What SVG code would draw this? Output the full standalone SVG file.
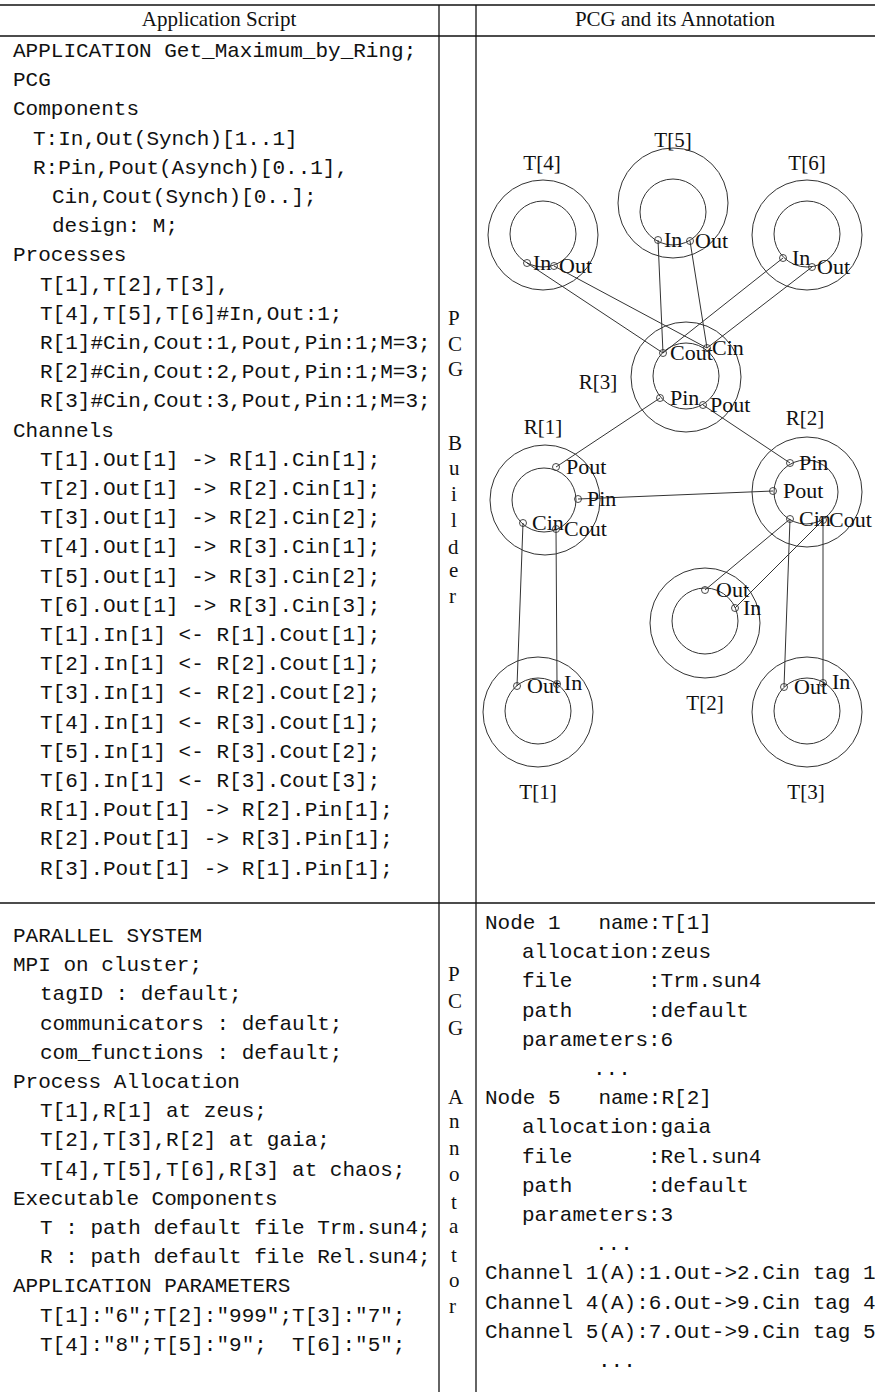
<svg xmlns="http://www.w3.org/2000/svg" width="875" height="1392" viewBox="0 0 875 1392">
<style>
.tt{font-family:"Liberation Mono","DejaVu Sans Mono",monospace;font-size:21px;fill:#111}
.tt text{white-space:pre}
.rm{font-family:"Liberation Serif","DejaVu Serif",serif;font-size:21px;fill:#111}
.lbl{font-family:"Liberation Serif","DejaVu Serif",serif;font-size:21px;fill:#111;text-anchor:middle}
.pl{font-family:"Liberation Serif","DejaVu Serif",serif;font-size:22px;fill:#111}
.tl{stroke:#111;stroke-width:1.3;fill:none}
.ring{fill:none;stroke:#333;stroke-width:1}
.port{fill:none;stroke:#333;stroke-width:0.9}
.conn{stroke:#333;stroke-width:1;fill:none}
</style>
<rect width="875" height="1392" fill="#fff"/>
<g id="table">
<line class="tl" x1="0" y1="5" x2="875" y2="5"/>
<line class="tl" x1="0" y1="36" x2="875" y2="36"/>
<line class="tl" x1="0" y1="903" x2="875" y2="903"/>
<line class="tl" x1="439" y1="5" x2="439" y2="1392"/>
<line class="tl" x1="476" y1="5" x2="476" y2="1392"/>
<text class="rm" x="219" y="26" text-anchor="middle">Application Script</text>
<text class="rm" x="675" y="26" text-anchor="middle">PCG and its Annotation</text>
</g>
<g id="script-upper" class="tt">
<text x="13" y="57">APPLICATION Get_Maximum_by_Ring;</text>
<text x="13" y="86.2">PCG</text>
<text x="13" y="115.4">Components</text>
<text x="33" y="144.6">T:In,Out(Synch)[1..1]</text>
<text x="33" y="173.8">R:Pin,Pout(Asynch)[0..1],</text>
<text x="52" y="203">Cin,Cout(Synch)[0..];</text>
<text x="52" y="232.2">design: M;</text>
<text x="13" y="261.4">Processes</text>
<text x="40" y="290.6">T[1],T[2],T[3],</text>
<text x="40" y="319.8">T[4],T[5],T[6]#In,Out:1;</text>
<text x="40" y="349">R[1]#Cin,Cout:1,Pout,Pin:1;M=3;</text>
<text x="40" y="378.2">R[2]#Cin,Cout:2,Pout,Pin:1;M=3;</text>
<text x="40" y="407.4">R[3]#Cin,Cout:3,Pout,Pin:1;M=3;</text>
<text x="13" y="436.6">Channels</text>
<text x="40" y="465.8">T[1].Out[1] -&gt; R[1].Cin[1];</text>
<text x="40" y="495">T[2].Out[1] -&gt; R[2].Cin[1];</text>
<text x="40" y="524.2">T[3].Out[1] -&gt; R[2].Cin[2];</text>
<text x="40" y="553.4">T[4].Out[1] -&gt; R[3].Cin[1];</text>
<text x="40" y="582.6">T[5].Out[1] -&gt; R[3].Cin[2];</text>
<text x="40" y="611.8">T[6].Out[1] -&gt; R[3].Cin[3];</text>
<text x="40" y="641">T[1].In[1] &lt;- R[1].Cout[1];</text>
<text x="40" y="670.2">T[2].In[1] &lt;- R[2].Cout[1];</text>
<text x="40" y="699.4">T[3].In[1] &lt;- R[2].Cout[2];</text>
<text x="40" y="728.6">T[4].In[1] &lt;- R[3].Cout[1];</text>
<text x="40" y="757.8">T[5].In[1] &lt;- R[3].Cout[2];</text>
<text x="40" y="787">T[6].In[1] &lt;- R[3].Cout[3];</text>
<text x="40" y="816.2">R[1].Pout[1] -&gt; R[2].Pin[1];</text>
<text x="40" y="845.4">R[2].Pout[1] -&gt; R[3].Pin[1];</text>
<text x="40" y="874.6">R[3].Pout[1] -&gt; R[1].Pin[1];</text>
</g>
<g id="script-lower" class="tt">
<text x="13" y="942">PARALLEL SYSTEM</text>
<text x="13" y="971.2">MPI on cluster;</text>
<text x="40" y="1000.4">tagID : default;</text>
<text x="40" y="1029.6">communicators : default;</text>
<text x="40" y="1058.8">com_functions : default;</text>
<text x="13" y="1088">Process Allocation</text>
<text x="40" y="1117.2">T[1],R[1] at zeus;</text>
<text x="40" y="1146.4">T[2],T[3],R[2] at gaia;</text>
<text x="40" y="1175.6">T[4],T[5],T[6],R[3] at chaos;</text>
<text x="13" y="1204.8">Executable Components</text>
<text x="40" y="1234">T : path default file Trm.sun4;</text>
<text x="40" y="1263.2">R : path default file Rel.sun4;</text>
<text x="13" y="1292.4">APPLICATION PARAMETERS</text>
<text x="40" y="1321.6">T[1]:"6";T[2]:"999";T[3]:"7";</text>
<text x="40" y="1350.8" xml:space="preserve">T[4]:"8";T[5]:"9";  T[6]:"5";</text>
</g>
<g id="annotation" class="tt">
<text x="485" y="929" xml:space="preserve">Node 1   name:T[1]</text>
<text x="522" y="958.2">allocation:zeus</text>
<text x="522" y="987.4" xml:space="preserve">file      :Trm.sun4</text>
<text x="522" y="1016.6" xml:space="preserve">path      :default</text>
<text x="522" y="1045.8">parameters:6</text>
<text x="593" y="1075">...</text>
<text x="485" y="1104.2" xml:space="preserve">Node 5   name:R[2]</text>
<text x="522" y="1133.4">allocation:gaia</text>
<text x="522" y="1162.6" xml:space="preserve">file      :Rel.sun4</text>
<text x="522" y="1191.8" xml:space="preserve">path      :default</text>
<text x="522" y="1221">parameters:3</text>
<text x="595" y="1250.2">...</text>
<text x="485" y="1279.4">Channel 1(A):1.Out-&gt;2.Cin tag 1</text>
<text x="485" y="1308.6">Channel 4(A):6.Out-&gt;9.Cin tag 4</text>
<text x="485" y="1337.8">Channel 5(A):7.Out-&gt;9.Cin tag 5</text>
<text x="598" y="1367">...</text>
</g>
<g id="mid-builder" class="rm">
<text x="448" y="325">P</text>
<text x="448" y="351">C</text>
<text x="448" y="376">G</text>
<text x="448" y="450">B</text>
<text x="449" y="475">u</text>
<text x="451" y="501">i</text>
<text x="451" y="527">l</text>
<text x="448" y="554">d</text>
<text x="449" y="577">e</text>
<text x="449" y="603">r</text>
</g>
<g id="mid-annotator" class="rm">
<text x="448" y="981">P</text>
<text x="448" y="1008">C</text>
<text x="448" y="1035">G</text>
<text x="448" y="1104">A</text>
<text x="449" y="1128">n</text>
<text x="449" y="1155">n</text>
<text x="449" y="1181">o</text>
<text x="451" y="1209">t</text>
<text x="449" y="1233">a</text>
<text x="451" y="1262">t</text>
<text x="449" y="1287">o</text>
<text x="449" y="1313">r</text>
</g>
<g id="connectors">
<line class="conn" x1="527" y1="263" x2="663" y2="353"/>
<line class="conn" x1="554" y1="266" x2="707" y2="348"/>
<line class="conn" x1="658" y1="240" x2="663" y2="353"/>
<line class="conn" x1="690" y1="241" x2="707" y2="348"/>
<line class="conn" x1="783" y1="258" x2="663" y2="353"/>
<line class="conn" x1="812" y1="267" x2="707" y2="348"/>
<line class="conn" x1="660" y1="398" x2="556" y2="467"/>
<line class="conn" x1="703" y1="405" x2="790" y2="463"/>
<line class="conn" x1="578" y1="499" x2="773" y2="491"/>
<line class="conn" x1="523" y1="523" x2="517" y2="686"/>
<line class="conn" x1="556" y1="529" x2="557" y2="684"/>
<line class="conn" x1="790" y1="519" x2="705" y2="590"/>
<line class="conn" x1="790" y1="519" x2="784" y2="687"/>
<line class="conn" x1="823" y1="520" x2="735" y2="608"/>
<line class="conn" x1="823" y1="520" x2="823" y2="683"/>
</g>
<g id="node-T4">
<circle class="ring" cx="543" cy="235" r="55"/><circle class="ring" cx="543" cy="234" r="33"/>
<text class="lbl" x="542" y="170">T[4]</text>
<circle class="port" cx="527" cy="263" r="3.5"/><text class="pl" x="533" y="270">In</text>
<circle class="port" cx="554" cy="266" r="3.5"/><text class="pl" x="559" y="273">Out</text>
</g>
<g id="node-T5">
<circle class="ring" cx="673" cy="203" r="55"/><circle class="ring" cx="673" cy="212" r="33"/>
<text class="lbl" x="673" y="147">T[5]</text>
<circle class="port" cx="658" cy="240" r="3.5"/><text class="pl" x="664" y="247">In</text>
<circle class="port" cx="690" cy="241" r="3.5"/><text class="pl" x="695" y="248">Out</text>
</g>
<g id="node-T6">
<circle class="ring" cx="807" cy="235" r="55"/><circle class="ring" cx="807" cy="234" r="33"/>
<text class="lbl" x="807" y="170">T[6]</text>
<circle class="port" cx="783" cy="258" r="3.5"/><text class="pl" x="792" y="265">In</text>
<circle class="port" cx="812" cy="267" r="3.5"/><text class="pl" x="817" y="274">Out</text>
</g>
<g id="node-R3">
<circle class="ring" cx="686" cy="377" r="55"/><circle class="ring" cx="686" cy="376" r="33"/>
<text class="lbl" x="598" y="389">R[3]</text>
<circle class="port" cx="663" cy="353" r="3.5"/><text class="pl" x="670" y="360">Cout</text>
<circle class="port" cx="707" cy="348" r="3.5"/><text class="pl" x="712" y="355">Cin</text>
<circle class="port" cx="660" cy="398" r="3.5"/><text class="pl" x="670" y="405">Pin</text>
<circle class="port" cx="703" cy="405" r="3.5"/><text class="pl" x="710" y="412">Pout</text>
</g>
<g id="node-R1">
<circle class="ring" cx="545" cy="500" r="55"/><circle class="ring" cx="544" cy="500" r="32"/>
<text class="lbl" x="543" y="434">R[1]</text>
<circle class="port" cx="556" cy="467" r="3.5"/><text class="pl" x="566" y="474">Pout</text>
<circle class="port" cx="578" cy="499" r="3.5"/><text class="pl" x="587" y="506">Pin</text>
<circle class="port" cx="523" cy="523" r="3.5"/><text class="pl" x="532" y="530">Cin</text>
<circle class="port" cx="556" cy="529" r="3.5"/><text class="pl" x="564" y="536">Cout</text>
</g>
<g id="node-R2">
<circle class="ring" cx="807" cy="492" r="55"/><circle class="ring" cx="806" cy="492" r="32"/>
<text class="lbl" x="805" y="425">R[2]</text>
<circle class="port" cx="790" cy="463" r="3.5"/><text class="pl" x="799" y="470">Pin</text>
<circle class="port" cx="773" cy="491" r="3.5"/><text class="pl" x="783" y="498">Pout</text>
<circle class="port" cx="790" cy="519" r="3.5"/><text class="pl" x="799" y="526">Cin</text>
<circle class="port" cx="823" cy="520" r="3.5"/><text class="pl" x="829" y="527">Cout</text>
</g>
<g id="node-T2">
<circle class="ring" cx="705" cy="623" r="55"/><circle class="ring" cx="705" cy="621" r="33"/>
<text class="lbl" x="705" y="710">T[2]</text>
<circle class="port" cx="705" cy="590" r="3.5"/><text class="pl" x="716" y="597">Out</text>
<circle class="port" cx="735" cy="608" r="3.5"/><text class="pl" x="743" y="615">In</text>
</g>
<g id="node-T1">
<circle class="ring" cx="538" cy="712" r="55"/><circle class="ring" cx="538" cy="711" r="33"/>
<text class="lbl" x="538" y="799">T[1]</text>
<circle class="port" cx="517" cy="686" r="3.5"/><text class="pl" x="527" y="693">Out</text>
<circle class="port" cx="557" cy="684" r="3.5"/><text class="pl" x="564" y="690">In</text>
</g>
<g id="node-T3">
<circle class="ring" cx="807" cy="712" r="55"/><circle class="ring" cx="807" cy="711" r="33"/>
<text class="lbl" x="806" y="799">T[3]</text>
<circle class="port" cx="784" cy="687" r="3.5"/><text class="pl" x="794" y="694">Out</text>
<circle class="port" cx="823" cy="683" r="3.5"/><text class="pl" x="832" y="689">In</text>
</g>
</svg>
